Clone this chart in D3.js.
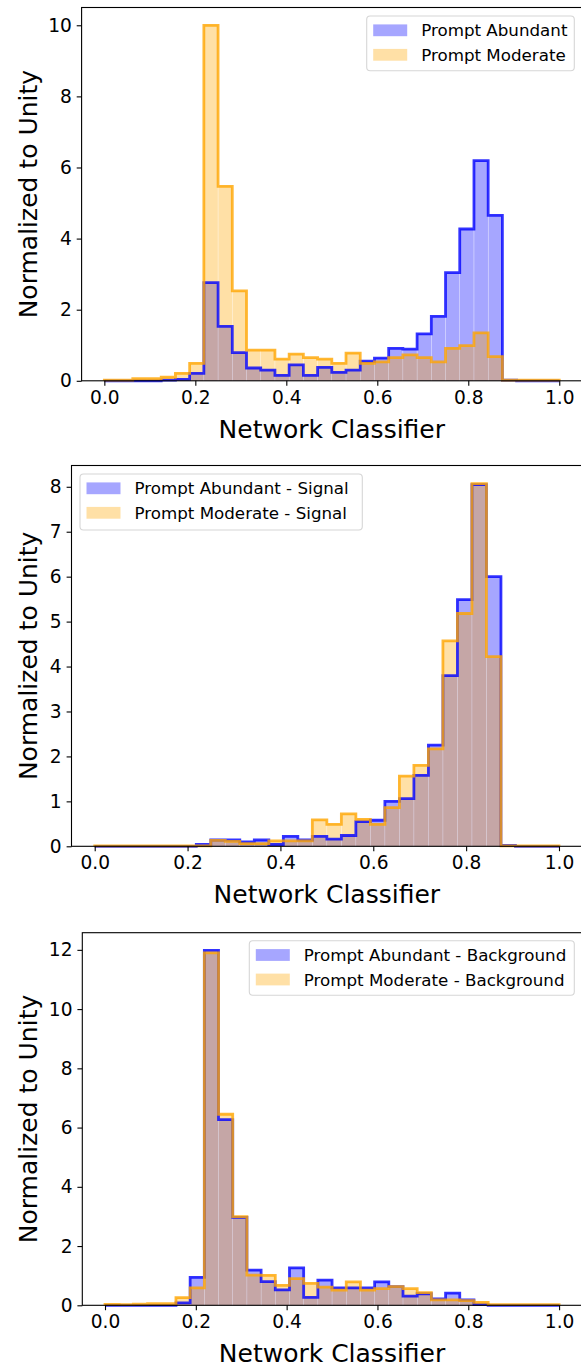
<!DOCTYPE html>
<html>
<head>
<meta charset="utf-8">
<script src="https://cdn.jsdelivr.net/npm/d3@7"></script>
<style>
  body { margin: 0; background: #fff; }
  svg { display: block; font-family: "DejaVu Sans", sans-serif; }
</style>
</head>
<body>
<svg width="581" height="1366"></svg>
<script>
// 32 equal bins on [0, 1]
const binEdges = d3.range(33).map((k) => k / 32);

// panel 1: all events
const abundantAll = [0, 0, 0, 0, 0.02, 0.04, 0.21, 2.76, 1.53, 0.79, 0.36, 0.30, 0.15, 0.45, 0.15, 0.38,
  0.24, 0.30, 0.55, 0.64, 0.91, 0.89, 1.32, 1.81, 3.04, 4.27, 6.19, 4.65, 0.02, 0, 0, 0];
const moderateAll = [0.02, 0.02, 0.06, 0.06, 0.10, 0.21, 0.49, 10.0, 5.47, 2.53, 0.86, 0.86, 0.61, 0.75, 0.65, 0.61,
  0.49, 0.78, 0.49, 0.53, 0.65, 0.73, 0.65, 0.53, 0.91, 0.99, 1.35, 0.68, 0.02, 0.02, 0.02, 0.02];

// panel 2: signal
const abundantSignal = [0, 0, 0, 0, 0, 0, 0, 0.04, 0.14, 0.14, 0.10, 0.14, 0.04, 0.22, 0.14, 0.22,
  0.16, 0.24, 0.55, 0.58, 1.00, 1.06, 1.58, 2.25, 3.80, 5.49, 8.05, 6.00, 0.02, 0, 0, 0];
const moderateSignal = [0.01, 0.01, 0.01, 0.01, 0.01, 0.01, 0.01, 0.01, 0.13, 0.11, 0.06, 0.06, 0.12, 0.12, 0.12, 0.59,
  0.49, 0.72, 0.60, 0.49, 0.86, 1.56, 1.80, 2.17, 4.57, 5.18, 8.07, 4.22, 0.01, 0.01, 0.01, 0.01];

// panel 3: background
const abundantBackground = [0, 0, 0, 0, 0, 0.08, 0.94, 11.98, 6.27, 2.97, 1.19, 0.80, 0.52, 1.26, 0.27, 0.85,
  0.59, 0.59, 0.59, 0.79, 0.63, 0.31, 0.39, 0.22, 0.41, 0.18, 0.02, 0, 0, 0, 0, 0];
const moderateBackground = [0.03, 0.02, 0.04, 0.06, 0.06, 0.26, 0.59, 11.9, 6.45, 2.99, 1.02, 1.01, 0.67, 0.90, 0.74, 0.61,
  0.51, 0.79, 0.51, 0.56, 0.63, 0.56, 0.43, 0.18, 0.18, 0.16, 0.10, 0.02, 0.02, 0.02, 0.02, 0.02];

const xTicks = [0, 0.2, 0.4, 0.6, 0.8, 1.0];

const panels = [
  { a: abundantAll, m: moderateAll, yTicks: d3.range(0, 11, 2),
    labels: ['Prompt Abundant', 'Prompt Moderate'],
    box: { left: 81.6, right: 582, top: 7.5, bottom: 380.8 },
    legend: { x: 366.7, y: 16, w: 207.6, h: 54.7 } },
  { a: abundantSignal, m: moderateSignal, yTicks: d3.range(0, 9, 1),
    labels: ['Prompt Abundant - Signal', 'Prompt Moderate - Signal'],
    box: { left: 71.5, right: 582.2, top: 465.5, bottom: 846.3 },
    legend: { x: 80, y: 474, w: 282.3, h: 56 } },
  { a: abundantBackground, m: moderateBackground, yTicks: d3.range(0, 13, 2),
    labels: ['Prompt Abundant - Background', 'Prompt Moderate - Background'],
    box: { left: 82.3, right: 581.8, top: 932.7, bottom: 1305.3 },
    legend: { x: 249.3, y: 940.7, w: 325, h: 54.6 } },
];

const blue = '#0000ff';
const orange = '#ffa500';
const tickSize = 4.9;
const svg = d3.select('svg');

panels.forEach((p) => {
  const b = p.box;
  const x = d3.scaleLinear().domain([-0.05, 1.05]).range([b.left, b.right]);
  const ymax = 1.05 * d3.max(p.a.concat(p.m));
  const y = d3.scaleLinear().domain([0, ymax]).range([b.bottom, b.top]);

  const g = svg.append('g');

  // filled bars
  function bars(values, color) {
    g.append('g')
      .selectAll('rect')
      .data(values)
      .join('rect')
      .attr('x', (d, i) => x(binEdges[i]) + 0.2)
      .attr('width', (d, i) => x(binEdges[i + 1]) - x(binEdges[i]) - 0.4)
      .attr('y', (d) => y(d))
      .attr('height', (d) => y(0) - y(d))
      .attr('fill', color)
      .attr('fill-opacity', 0.35);
  }

  // step outline
  function step(values, color) {
    const pts = [[binEdges[0], 0]];
    values.forEach((v, i) => {
      pts.push([binEdges[i], v]);
      pts.push([binEdges[i + 1], v]);
    });
    pts.push([binEdges[binEdges.length - 1], 0]);
    g.append('path')
      .attr('d', d3.line().x((d) => x(d[0])).y((d) => y(d[1]))(pts))
      .attr('fill', 'none')
      .attr('stroke', color)
      .attr('stroke-opacity', 0.8)
      .attr('stroke-width', 2.78)
      .attr('stroke-linejoin', 'miter');
  }

  bars(p.a, blue);
  bars(p.m, orange);
  step(p.a, blue);
  step(p.m, orange);

  // axes
  const xAxis = g.append('g')
    .attr('transform', `translate(0,${b.bottom})`)
    .call(d3.axisBottom(x).tickValues(xTicks).tickFormat(d3.format('.1f'))
      .tickSize(tickSize).tickPadding(4.9));
  const yAxis = g.append('g')
    .attr('transform', `translate(${b.left},0)`)
    .call(d3.axisLeft(y).tickValues(p.yTicks).tickFormat(d3.format('d'))
      .tickSize(tickSize).tickPadding(4.9));
  [xAxis, yAxis].forEach((ax) => {
    ax.select('.domain').remove();
    ax.selectAll('line').attr('stroke', '#000').attr('stroke-width', 1.1);
    ax.selectAll('text').attr('fill', '#000').style('font-size', '18.6px')
      .style('font-family', '"DejaVu Sans", sans-serif');
  });

  // frame
  g.append('rect')
    .attr('x', b.left).attr('y', b.top)
    .attr('width', b.right - b.left).attr('height', b.bottom - b.top)
    .attr('fill', 'none').attr('stroke', '#000').attr('stroke-width', 1.1);

  // axis labels
  g.append('text')
    .attr('x', (b.left + b.right) / 2)
    .attr('y', b.bottom + 57)
    .attr('text-anchor', 'middle')
    .style('font-size', '25px')
    .text('Network Classifier');
  g.append('text')
    .attr('transform', `translate(36.6,${(b.top + b.bottom) / 2}) rotate(-90)`)
    .attr('text-anchor', 'middle')
    .style('font-size', '25px')
    .text('Normalized to Unity');

  // legend
  const L = p.legend;
  const lg = g.append('g');
  lg.append('rect')
    .attr('x', L.x).attr('y', L.y).attr('width', L.w).attr('height', L.h)
    .attr('rx', 3.5)
    .attr('fill', '#fff').attr('fill-opacity', 0.8)
    .attr('stroke', '#d6d6d6').attr('stroke-width', 1.1);
  [blue, orange].forEach((c, i) => {
    const cy = L.y + 14.3 + i * 24.5;
    lg.append('rect')
      .attr('x', L.x + 6.5).attr('y', cy - 5.9)
      .attr('width', 34).attr('height', 11.8)
      .attr('fill', c).attr('fill-opacity', 0.35);
    lg.append('text')
      .attr('x', L.x + 54.5).attr('y', cy + 6)
      .style('font-size', '16.7px')
      .text(p.labels[i]);
  });
});
</script>
</body>
</html>
